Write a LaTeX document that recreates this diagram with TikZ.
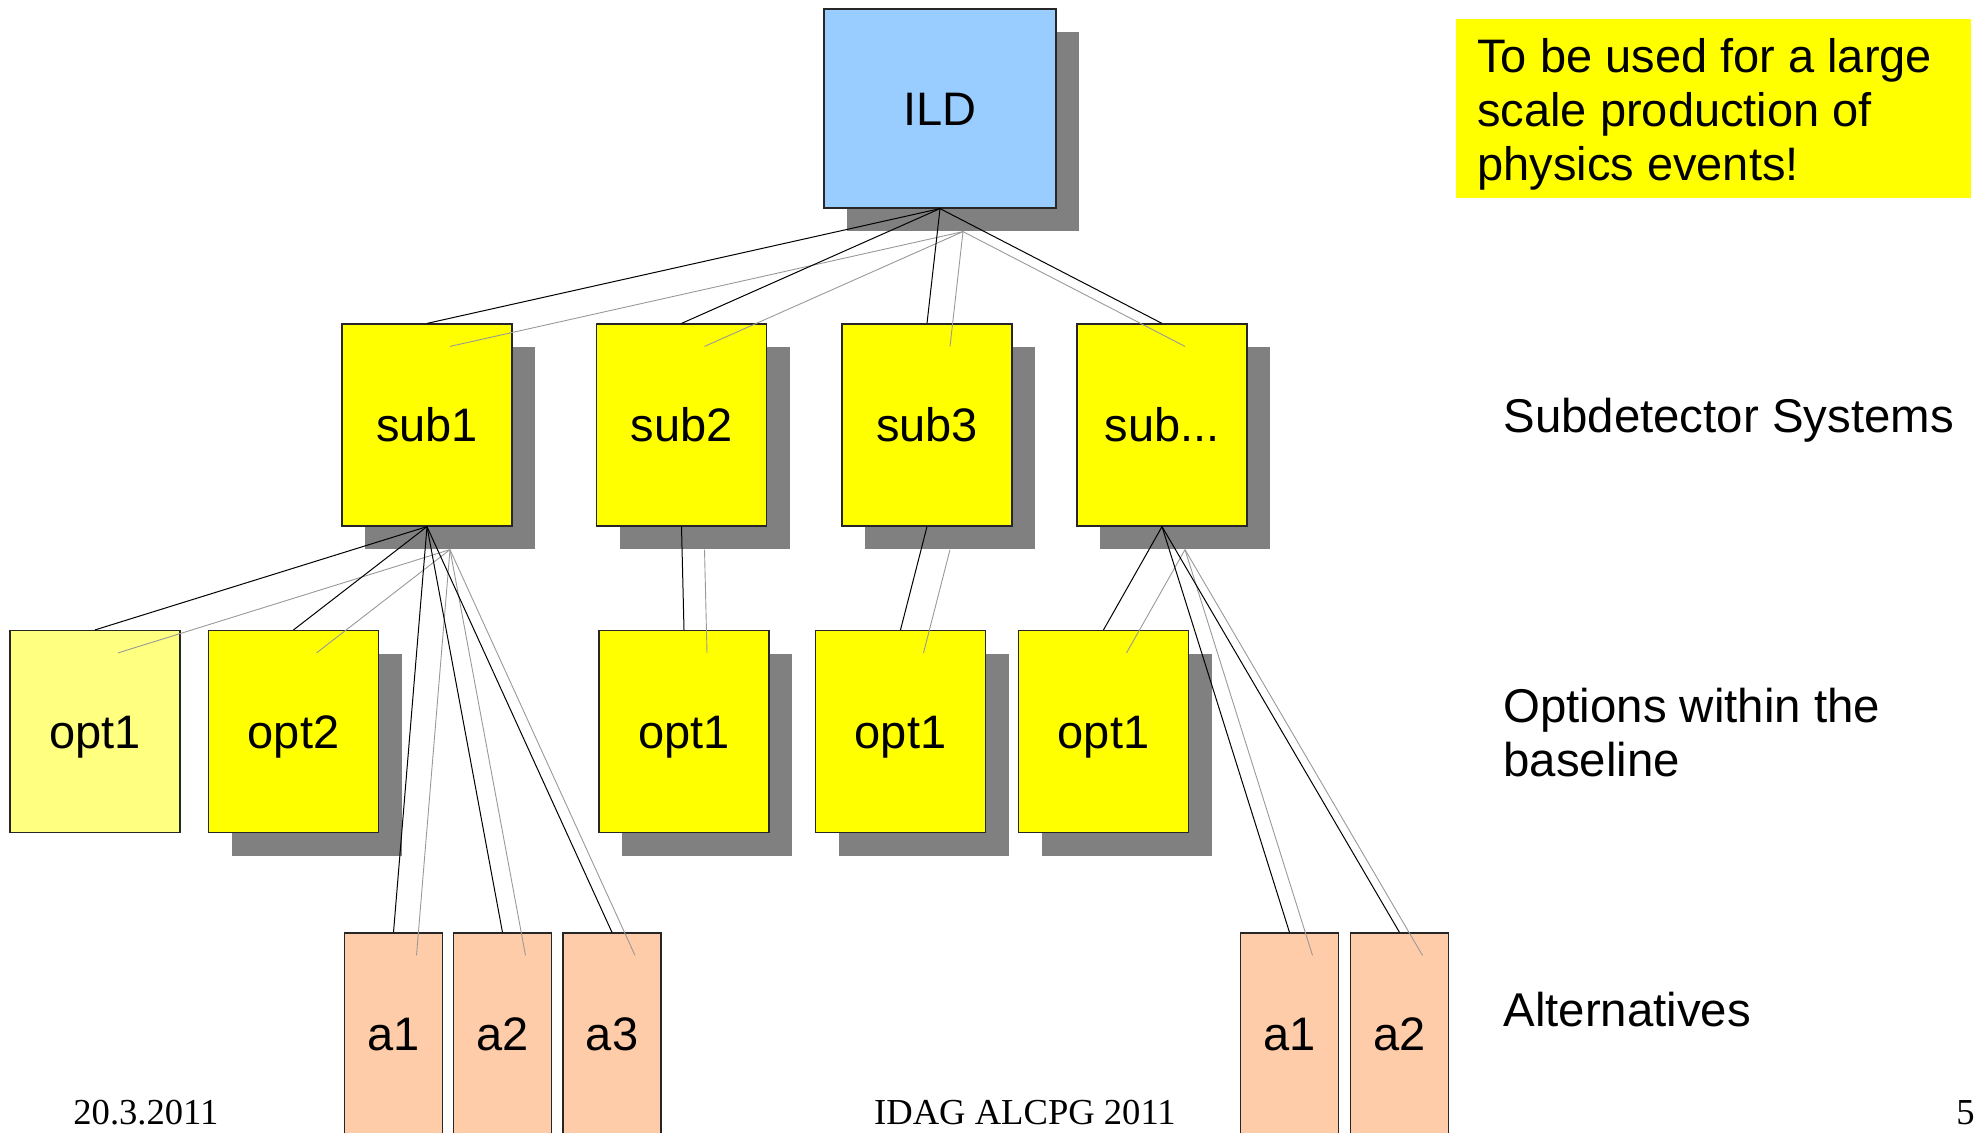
\documentclass[tikz,border=0pt]{standalone}
\usepackage{fontspec}
\setmainfont{Liberation Sans}
\newfontfamily\footfont{Liberation Serif}
\usetikzlibrary{calc}

\definecolor{ildblue}{HTML}{99CCFF}
\definecolor{subyellow}{HTML}{FFFF00}
\definecolor{paleyellow}{HTML}{FFFF80}
\definecolor{altpeach}{HTML}{FFCCAA}
\definecolor{shadowgray}{HTML}{808080}
\definecolor{ghostgray}{HTML}{999999}

\begin{document}
\begin{tikzpicture}[x=0.5pt,y=-0.5pt,
 box/.style={draw=black!85,line width=0.6pt,inner sep=0pt,
  minimum width=85pt,minimum height=101pt,fill=subyellow,
  text height=16.8pt,text depth=0pt,
  font=\fontsize{23.5}{27}\selectfont},
 topbox/.style={box,minimum width=116pt,minimum height=99.5pt,fill=ildblue},
 palebox/.style={box,fill=paleyellow},
 altbox/.style={box,minimum width=49pt,fill=altpeach},
 shadowbox/.style={fill=shadowgray},
 noshadow/.style={fill=none},
 link/.style={draw=black,line width=0.5pt},
 ghostlink/.style={draw=ghostgray,line width=0.45pt},
 lbl/.style={inner sep=0pt,font=\fontsize{23.7}{27}\selectfont},
 foot/.style={inner sep=0pt,font=\footfont\fontsize{18.3}{22}\selectfont}]

\newcommand{\blk}[6][shadowbox] % [shadow][style][name][x][y][label]
{
 \node[#2,#1,draw=none] (#3-s) at ({#4+\d},{#5+\d}) {};
 \node[#2] (#3) at (#4,#5) {#6};
}

\def\d {23}
\def\rowa {425} \def\rowb {731.5} \def\rowc {1034}
\useasboundingbox (0,0) rectangle (1979,1132);

% tree boxes
\blk{topbox}{ild}{940}{108.5}{ILD}
\blk{box}{sub1}{427}{\rowa}{sub1}
\blk{box}{sub2}{681.5}{\rowa}{sub2}
\blk{box}{sub3}{927}{\rowa}{sub3}
\blk{box}{subx}{1162}{\rowa}{sub...}
\blk[noshadow]{palebox}{opt1a}{95}{\rowb}{opt1}
\blk{box}{opt2}{293.5}{\rowb}{opt2}
\blk{box}{opt1b}{684}{\rowb}{opt1}
\blk{box}{opt1c}{900.5}{\rowb}{opt1}
\blk{box}{opt1d}{1103.5}{\rowb}{opt1}
\blk[noshadow]{altbox}{a1}{393.5}{\rowc}{a1}
\blk[noshadow]{altbox}{a2}{502.5}{\rowc}{a2}
\blk[noshadow]{altbox}{a3}{612}{\rowc}{a3}
\blk[noshadow]{altbox}{xa1}{1289.5}{\rowc}{a1}
\blk[noshadow]{altbox}{xa2}{1399.5}{\rowc}{a2}

% connectors and their shadows
\foreach \p/\c in {ild/sub1,ild/sub2,ild/sub3,ild/subx,
  sub1/opt1a,sub1/opt2,sub1/a1,sub1/a2,sub1/a3,
  sub2/opt1b,sub3/opt1c,subx/opt1d,subx/xa1,subx/xa2}
{
 \draw[ghostlink] (\p-s.south) -- (\c-s.north);
 \draw[link] (\p.south) -- (\c.north);
}

% note and level labels
\node[fill=subyellow,inner sep=0pt,minimum width=257.5pt,
  minimum height=89.5pt] (note) at (1713.5,108.5) {};
\node[lbl,anchor=base west,align=left,font=\fontsize{23.5}{27}\selectfont]
  (notetext) at (1477,180.5) {To be used for a large\\scale production of\\physics events!};
\node[lbl,anchor=base west] (sys) at (1503,432) {Subdetector Systems};
\node[lbl,anchor=base west,align=left] (opts) at (1503,776) {Options within the\\baseline};
\node[lbl,anchor=base west] (alts) at (1503,1026) {Alternatives};

% footer
\node[foot,anchor=base west] (date) at (73,1124) {20.3.2011};
\node[foot,anchor=base] (conf) at (1025,1124) {IDAG ALCPG 2011};
\node[foot,anchor=base east] (page) at (1975,1124) {5};
\end{tikzpicture}
\end{document}
